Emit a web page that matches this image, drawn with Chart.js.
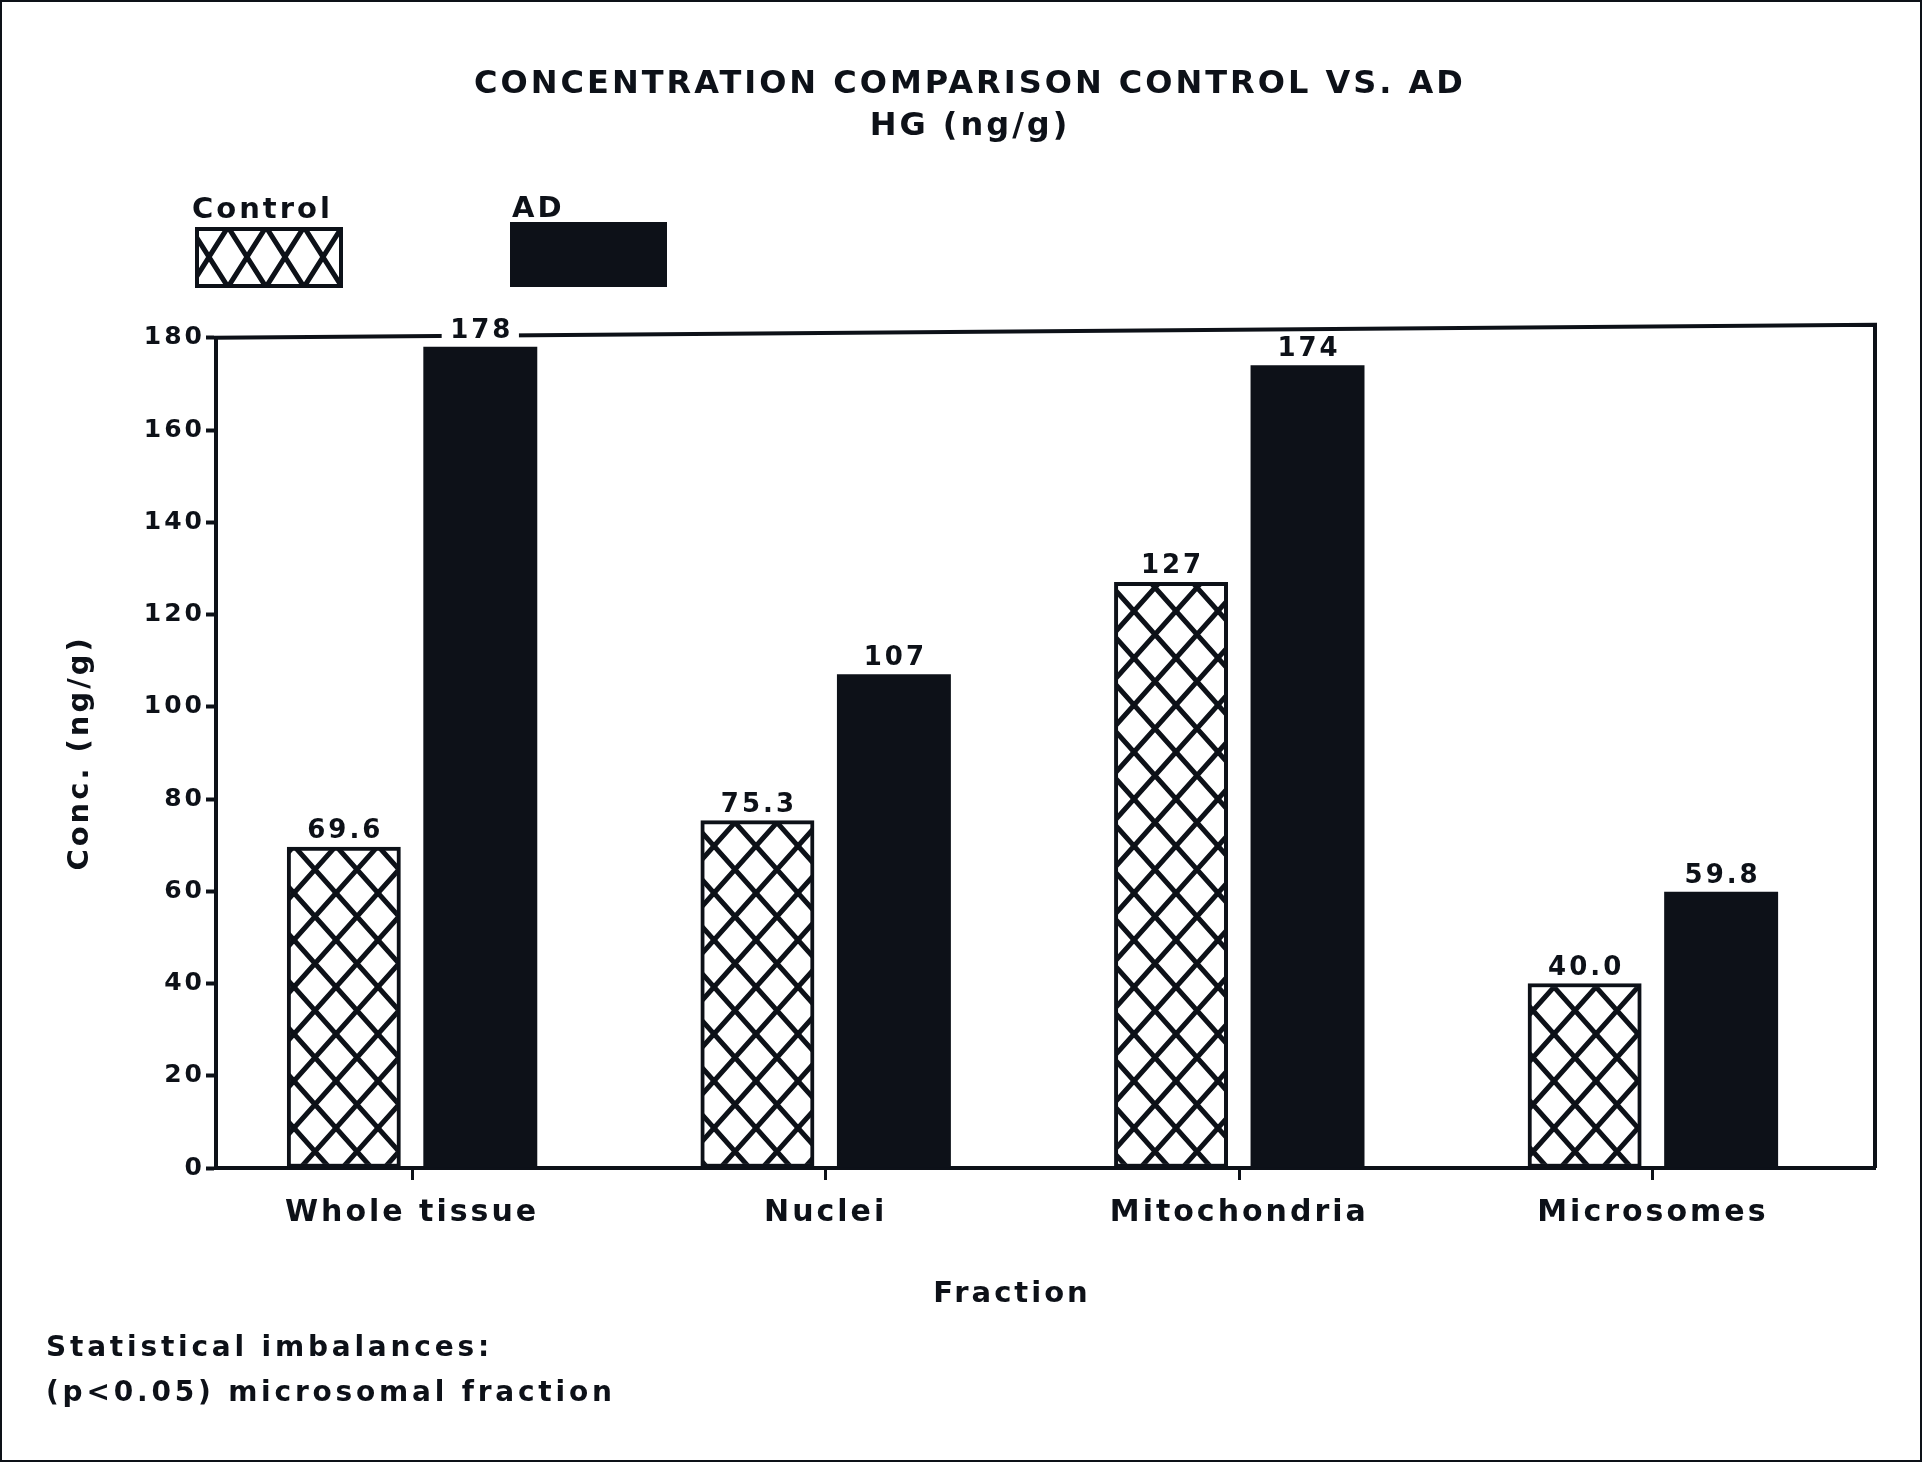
<!DOCTYPE html>
<html>
<head>
<meta charset="utf-8">
<title>Concentration comparison control vs. AD</title>
<script src="https://cdn.jsdelivr.net/npm/chart.js@4.4.0/dist/chart.umd.min.js"></script>
<style>
  html, body { margin: 0; padding: 0; background: #fff; overflow: hidden; }
  canvas { display: block; }
</style>
</head>
<body>
<canvas id="hgChart" width="1922" height="1462"></canvas>
<script>
// data
const fractions = ['Whole tissue', 'Nuclei', 'Mitochondria', 'Microsomes'];
const controlValues = [69.6, 75.3, 127, 40.0];
const adValues = [178, 107, 174, 59.8];
const yMin = 0;
const yMax = 180;
const yStep = 20;
const footnoteLines = ['Statistical imbalances:', '(p<0.05) microsomal fraction'];

const INK = '#0d1118';
const FONT = '"DejaVu Sans", sans-serif';

// x range chosen so the pairs sit where they do in the figure
const X_MIN = -0.474;
const X_MAX = 3.537;

function fmt(v) {
    return v >= 100 ? String(v) : v.toFixed(1);
}

function makeHatch(ctx, w, h, lw, ox, oy) {
    const c = document.createElement('canvas');
    c.width = w;
    c.height = h;
    const g = c.getContext('2d');
    g.fillStyle = '#fff';
    g.fillRect(0, 0, w, h);
    g.strokeStyle = INK;
    g.lineWidth = lw;
    for (const dx of [-w, 0, w]) {
        for (const dy of [-h, 0, h]) {
            g.beginPath();
            g.moveTo(dx, dy);
            g.lineTo(dx + w, dy + h);
            g.moveTo(dx + w, dy);
            g.lineTo(dx, dy + h);
            g.stroke();
        }
    }
    const p = ctx.createPattern(c, 'repeat');
    if (ox !== undefined) p.setTransform(new DOMMatrix().translate(ox, oy));
    return p;
}

const canvas = document.getElementById('hgChart');
const ctx = canvas.getContext('2d');
const barHatch = makeHatch(ctx, 42, 47, 5);
const legendHatch = makeHatch(ctx, 38, 60, 5, 209, 257);

const extras = {
    id: 'extras',
    beforeLayout(chart) {
        chart.ctx.letterSpacing = '3px';
    },
    beforeDraw(chart) {
        const c = chart.ctx;
        c.letterSpacing = '3px';
        c.save();
        c.fillStyle = '#fff';
        c.fillRect(0, 0, chart.width, chart.height);
        c.restore();
    },
    afterDatasetsDraw(chart) {
        const c = chart.ctx;
        const a = chart.chartArea;
        c.save();
        // top and right edges of the plot frame
        c.strokeStyle = INK;
        c.lineWidth = 4;
        c.beginPath();
        c.moveTo(a.left - 2, a.top);
        c.lineTo(a.right, a.top - 13);
        c.lineTo(a.right, a.bottom);
        c.stroke();

        // value labels above the bars
        c.font = 'bold 26px ' + FONT;
        c.letterSpacing = '3px';
        c.textAlign = 'center';
        c.textBaseline = 'alphabetic';
        [controlValues, adValues].forEach((vals, d) => {
            chart.getDatasetMeta(d).data.forEach((bar, i) => {
                const txt = fmt(vals[i]);
                const w = c.measureText(txt).width;
                const y = bar.y - 9;
                c.fillStyle = '#fff';
                c.fillRect(bar.x - w / 2 - 7, y - 23, w + 14, 27);
                c.fillStyle = INK;
                c.fillText(txt, bar.x + 1.5, y);
            });
        });
        c.restore();
    },
    afterDraw(chart) {
        const c = chart.ctx;
        const ds = chart.data.datasets;
        c.save();
        c.fillStyle = INK;
        c.strokeStyle = INK;
        c.textAlign = 'left';
        c.textBaseline = 'alphabetic';

        // legend: name above swatch
        c.font = 'bold 29px ' + FONT;
        c.letterSpacing = '3px';
        c.fillText(ds[0].label, 192, 218);
        c.fillStyle = legendHatch;
        c.fillRect(195, 227, 148, 61);
        c.lineWidth = 4;
        c.strokeRect(197, 229, 144, 57);
        c.fillStyle = INK;
        c.fillText(ds[1].label, 512, 217);
        c.fillRect(510, 222, 157, 65);

        // x axis title
        c.font = 'bold 29px ' + FONT;
        c.textAlign = 'center';
        c.textBaseline = 'middle';
        c.fillText('Fraction', 1012, 1294);

        // footnote
        c.font = 'bold 28px ' + FONT;
        c.letterSpacing = '3.8px';
        c.textAlign = 'left';
        c.textBaseline = 'alphabetic';
        footnoteLines.forEach((line, i) => c.fillText(line, 46, 1356 + i * 45));

        // outer border of the figure
        c.lineWidth = 2;
        c.strokeRect(1, 1, chart.width - 2, chart.height - 2);
        c.restore();
    }
};

new Chart(ctx, {
    type: 'bar',
    data: {
        datasets: [{
            label: 'Control',
            data: controlValues.map((v, i) => ({ x: i, y: v })),
            backgroundColor: barHatch,
            borderColor: INK,
            borderWidth: 4,
            borderSkipped: false,
            barThickness: 'flex',
            categoryPercentage: 0.66,
            barPercentage: 0.83
        }, {
            label: 'AD',
            data: adValues.map((v, i) => ({ x: i, y: v })),
            backgroundColor: INK,
            borderWidth: 0,
            barThickness: 'flex',
            categoryPercentage: 0.66,
            barPercentage: 0.83
        }]
    },
    options: {
        responsive: false,
        animation: false,
        devicePixelRatio: 1,
        layout: { padding: { left: 65, right: 47, top: 0, bottom: 0 } },
        plugins: {
            legend: { display: false },
            tooltip: { enabled: false },
            title: {
                display: true,
                text: 'CONCENTRATION COMPARISON CONTROL VS. AD',
                color: INK,
                font: { family: FONT, size: 32, weight: 'bold' },
                padding: { top: 65, bottom: 4 }
            },
            subtitle: {
                display: true,
                text: 'HG (ng/g)',
                color: INK,
                font: { family: FONT, size: 32, weight: 'bold' },
                padding: { top: 0, bottom: 192 }
            }
        },
        scales: {
            x: {
                type: 'linear',
                min: X_MIN,
                max: X_MAX,
                offset: false,
                ticks: {
                    stepSize: 1,
                    includeBounds: true,
                    autoSkip: false,
                    maxRotation: 0,
                    minRotation: 0,
                    callback: v => fractions[v] ?? '',
                    color: INK,
                    font: { family: FONT, size: 30, weight: 'bold' },
                    padding: 15
                },
                grid: {
                    offset: false,
                    drawOnChartArea: false,
                    tickLength: 12,
                    tickWidth: 3,
                    tickColor: c => (c.tick && Number.isInteger(c.tick.value)) ? INK : 'rgba(0,0,0,0)'
                },
                border: { color: INK, width: 4 },
                afterFit: s => { s.height = 294; }
            },
            y: {
                min: yMin,
                max: yMax,
                ticks: {
                    stepSize: yStep,
                    color: INK,
                    font: { family: FONT, size: 25, weight: 'bold' },
                    padding: 1
                },
                grid: { drawOnChartArea: false, tickLength: 10, tickWidth: 4, tickColor: INK },
                border: { color: INK, width: 4 },
                title: {
                    display: true,
                    text: 'Conc. (ng/g)',
                    color: INK,
                    font: { family: FONT, size: 29, weight: 'bold' },
                    padding: { top: -2, bottom: 0 }
                },
                afterFit: s => { s.width = 151; }
            }
        }
    },
    plugins: [extras]
});
</script>
</body>
</html>
